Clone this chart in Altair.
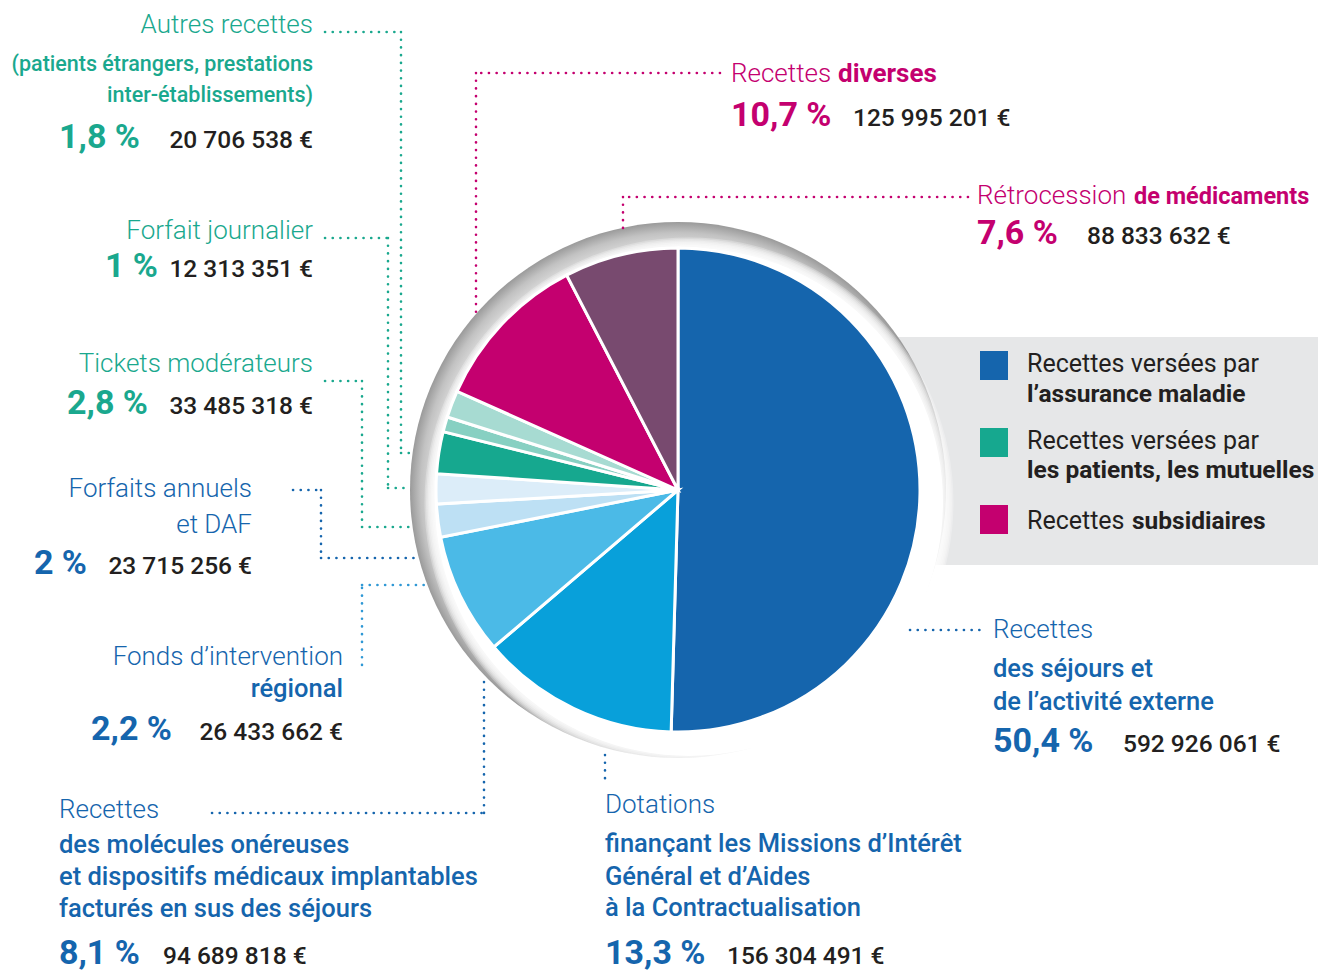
import math
import altair as alt
import pandas as pd

# ------------------------------------------------------------------ data
slice_names = [
    "Recettes des séjours et de l’activité externe",
    "Dotations MIGAC",
    "Molécules onéreuses et DMI",
    "Fonds d’intervention régional",
    "Forfaits annuels et DAF",
    "Tickets modérateurs",
    "Forfait journalier",
    "Autres recettes",
    "Recettes diverses",
    "Rétrocession de médicaments",
]
slice_values = [50.4, 13.3, 8.1, 2.2, 2.0, 2.8, 1.0, 1.8, 10.7, 7.6]
slice_amounts = [
    "592 926 061 €", "156 304 491 €", "94 689 818 €", "26 433 662 €",
    "23 715 256 €", "33 485 318 €", "12 313 351 €", "20 706 538 €",
    "125 995 201 €", "88 833 632 €",
]
slice_colors = [
    "#1565ad", "#08a0da", "#4bbae7", "#bde0f4", "#dcedf9",
    "#16a88f", "#87d0c2", "#a7dbd2", "#c4006f", "#784a6f",
]
# label lines of every slice: (text, style)
slice_lines = [
    [("Recettes", "head"), ("des séjours et", "sub"), ("de l’activité externe", "sub")],
    [("Dotations", "head"), ("finançant les Missions d’Intérêt", "sub"),
     ("Général et d’Aides", "sub"), ("à la Contractualisation", "sub")],
    [("Recettes", "head"), ("des molécules onéreuses", "sub"),
     ("et dispositifs médicaux implantables", "sub"), ("facturés en sus des séjours", "sub")],
    [("Fonds d’intervention", "head"), ("régional", "sub")],
    [("Forfaits annuels", "head"), ("et DAF", "head")],
    [("Tickets modérateurs", "head")],
    [("Forfait journalier", "head")],
    [("Autres recettes", "head"), ("(patients étrangers, prestations", "subS"),
     ("inter-établissements)", "subS")],
    [("Recettes", "head"), ("diverses", "headB")],
    [("Rétrocession", "head"), ("de médicaments", "headB2")],
]
legend_lines = [
    [("Recettes versées par", "leg"), ("l’assurance maladie", "legB")],
    [("Recettes versées par", "leg"), ("les patients, les mutuelles", "legB")],
    [("Recettes", "leg"), ("subsidiaires", "legB")],
]
legend_colors = ["#1565ad", "#16a88f", "#c4006f"]

TEAL = "#1aa88e"
BLUE = "#1565ad"
MAG = "#c4006f"
DARK = "#231f20"
group_color = [BLUE, BLUE, BLUE, BLUE, BLUE, TEAL, TEAL, TEAL, MAG, MAG]

# ------------------------------------------------------------------ layout (page pixels)
W, H = 1310, 963
FONT = "Roboto"
styles = {
    "head": (26, 300), "headB": (26, 700), "headB2": (23.5, 700),
    "sub": (25.5, 500), "subS": (21.5, 500),
    "pct": (34, 700), "amt": (24.5, 500), "leg": (25, 400), "legB": (24.5, 700),
}
# per slice: align, positions of lines, percent position, amount position
label_layout = [
    ("left", [(993, 638), (993, 677), (993, 710)], (993, 752), (1123, 752)),
    ("left", [(605, 813), (605, 852), (605, 885), (605, 916)], (605, 964), (727, 964)),
    ("left", [(59, 818), (59, 853), (59, 885), (59, 917)], (59, 964), (163, 964)),
    ("right", [(343, 665), (343, 697)], (172, 740), (343, 740)),
    ("right", [(252, 497), (252, 533)], (87, 574), (252, 574)),
    ("right", [(313, 372)], (148, 414), (313, 414)),
    ("right", [(313, 239)], (158, 277), (313, 277)),
    ("right", [(313, 33), (313, 71), (313, 102)], (140, 148), (313, 148)),
    ("left", [(731, 82), (838, 82)], (731, 126), (853, 126)),
    ("left", [(977, 204), (1134, 204)], (977, 244), (1087, 244)),
]
legend_layout = [
    ((980, 351, 1008, 380), [(1027, 372), (1027, 402)]),
    ((980, 428, 1008, 457), [(1027, 449), (1027, 478)]),
    ((980, 505, 1008, 534), [(1027, 529), (1132, 529)]),
]
leaders = [
    (TEAL, [(325, 32), (401, 32), (401, 453), (412, 453)]),
    (TEAL, [(325, 238), (388, 238), (388, 488), (410, 488)]),
    (TEAL, [(325, 381), (362, 381), (362, 527), (410, 527)]),
    (BLUE, [(293, 490), (321, 490), (321, 558), (418, 558)]),
    ("#2f98d5", [(362, 665), (362, 585), (426, 585)]),
    (BLUE, [(212, 813), (484, 813), (484, 677)]),
    (BLUE, [(605, 755), (605, 780)]),
    (BLUE, [(910, 630), (982, 630)]),
    (MAG, [(720, 73), (476, 73), (476, 312)]),
    (MAG, [(968, 197), (623, 197), (623, 228)]),
]
PIE_C = (678, 490)
PIE_R = 242
RING_R = 268
MASK_C = (689, 502)
MASK_R = 254


def pct(v):
    s = f"{v:.1f}"
    if s.endswith(".0"):
        s = s[:-2]
    return s.replace(".", ",") + " %"


xs = alt.Scale(domain=[8, 8 + W], range=[0, W], nice=False, zero=False)
ys = alt.Scale(domain=[8, 8 + H], range=[0, H], nice=False, zero=False)
X = alt.X("x:Q", scale=xs, axis=None)
Y = alt.Y("y:Q", scale=ys, axis=None)
COL = alt.Color("color:N", scale=None)

# ------------------------------------------------------------------ texts
rows = []
for i, (align, pos, ppos, apos) in enumerate(label_layout):
    col = group_color[i]
    for (txt, st), (x, y) in zip(slice_lines[i], pos):
        rows.append(dict(text=txt, x=x, y=y, style=st, align=align, color=col))
    rows.append(dict(text=pct(slice_values[i]), x=ppos[0], y=ppos[1], style="pct",
                     align=align, color=col))
    rows.append(dict(text=slice_amounts[i], x=apos[0], y=apos[1], style="amt",
                     align=align, color=DARK))
for lines, (_, pos) in zip(legend_lines, legend_layout):
    for (txt, st), (x, y) in zip(lines, pos):
        rows.append(dict(text=txt, x=x, y=y, style=st, align="left", color=DARK))
tdf = pd.DataFrame(rows)

text_layers = []
for (st, al), sub in tdf.groupby(["style", "align"]):
    size, weight = styles[st]
    text_layers.append(
        alt.Chart(sub).mark_text(align=al, baseline="alphabetic", font=FONT,
                                 fontSize=size, fontWeight=weight)
        .encode(x=X, y=Y, text="text:N", color=COL)
    )

# ------------------------------------------------------------------ leaders
seg = []
for col, pts in leaders:
    for (x1, y1), (x2, y2) in zip(pts[:-1], pts[1:]):
        seg.append(dict(x=x1, y=y1, x2=x2, y2=y2, color=col))
leader_layer = alt.Chart(pd.DataFrame(seg)).mark_rule(
    strokeDash=[0.1, 7.6], strokeCap="round", strokeWidth=2.6
).encode(x=X, y=Y, x2="x2:Q", y2="y2:Q", color=COL)

# ------------------------------------------------------------------ legend box + squares
box = alt.Chart(pd.DataFrame([dict(x=880, y=337, x2=8 + W, y2=565, color="#e6e7e8")])).mark_rect().encode(
    x=X, y=Y, x2="x2:Q", y2="y2:Q", color=COL)
sq = alt.Chart(pd.DataFrame([dict(x=r[0], y=r[1], x2=r[2], y2=r[3], color=c)
                             for (r, _), c in zip(legend_layout, legend_colors)])).mark_rect().encode(
    x=X, y=Y, x2="x2:Q", y2="y2:Q", color=COL)

# ------------------------------------------------------------------ ring / shadow
one = pd.DataFrame({"k": [0]})
ring = alt.Chart(one).mark_arc(
    radius=RING_R, theta=0, theta2=2 * math.pi,
    fill=alt.RadialGradient(
        gradient="radial", x1=0.5, y1=0.5, r1=0, x2=0.5, y2=0.5, r2=0.5,
        stops=[alt.GradientStop(offset=0, color="#eeeeee"),
               alt.GradientStop(offset=0.9, color="#e2e2e2"),
               alt.GradientStop(offset=0.96, color="#c2c2c2"),
               alt.GradientStop(offset=1, color="#9a9a9a")]),
).encode(x=alt.value(PIE_C[0] - 8), y=alt.value(PIE_C[1] - 8))

mask_layers = []
for k in range(7, 0, -1):
    mask_layers.append(
        alt.Chart(one).mark_arc(radius=MASK_R + 1.5 * k, theta=0, theta2=2 * math.pi,
                                fill="white", opacity=0.27)
        .encode(x=alt.value(MASK_C[0] - 8), y=alt.value(MASK_C[1] - 8))
    )
mask_layers.append(
    alt.Chart(one).mark_arc(radius=MASK_R, theta=0, theta2=2 * math.pi, fill="white")
    .encode(x=alt.value(MASK_C[0] - 8), y=alt.value(MASK_C[1] - 8))
)

# ------------------------------------------------------------------ pie
pie_df = pd.DataFrame({"name": slice_names, "value": slice_values,
                       "idx": list(range(len(slice_values))), "color": slice_colors})
pie = alt.Chart(pie_df).mark_arc(radius=PIE_R, stroke="white", strokeWidth=3).encode(
    theta=alt.Theta("value:Q", stack=True),
    order=alt.Order("idx:Q"),
    color=COL,
    x=alt.value(PIE_C[0] - 8), y=alt.value(PIE_C[1] - 8),
    tooltip=["name:N", "value:Q"],
)

chart = alt.layer(box, ring, *mask_layers, leader_layer, pie, sq, *text_layers).properties(
    width=W, height=H, padding=0, autosize=alt.AutoSizeParams(type="none"),
    background="white",
).configure_view(stroke=None)

chart.save("out.html", embed_options={"renderer": "svg", "actions": False})
